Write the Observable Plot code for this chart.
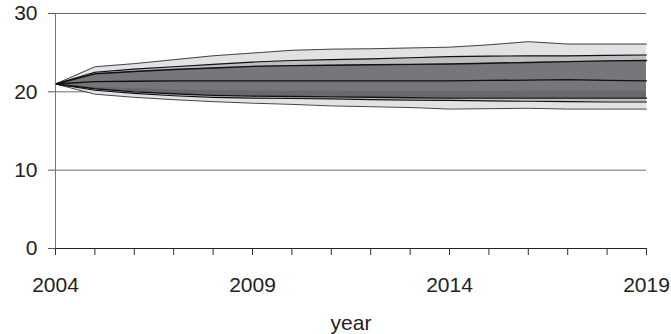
<!DOCTYPE html>
<html>
<head>
<meta charset="utf-8">
<script src="https://cdn.jsdelivr.net/npm/d3@7"></script>
<script src="https://cdn.jsdelivr.net/npm/@observablehq/plot@0.6"></script>
<style>
  html, body { margin: 0; padding: 0; background: #fff; }
</style>
</head>
<body>
<div id="chart"></div>
<script>
const years    = [2004, 2005, 2006, 2007, 2008, 2009, 2010, 2011, 2012, 2013, 2014, 2015, 2016, 2017, 2018, 2019];
const outerHi  = [21.0, 23.2, 23.6, 24.1, 24.6, 24.95, 25.3, 25.45, 25.5, 25.6, 25.7, 26.0, 26.4, 26.1, 26.1, 26.1];
const medHi    = [21.0, 22.5, 22.9, 23.2, 23.5, 23.8, 24.0, 24.1, 24.2, 24.35, 24.5, 24.55, 24.6, 24.6, 24.65, 24.7];
const darkHi   = [21.0, 22.3, 22.6, 22.85, 23.05, 23.25, 23.35, 23.4, 23.45, 23.5, 23.55, 23.65, 23.75, 23.85, 23.95, 24.0];
const median   = [21.0, 21.3, 21.35, 21.4, 21.4, 21.4, 21.4, 21.4, 21.4, 21.4, 21.4, 21.45, 21.5, 21.55, 21.45, 21.4];
const stripHi  = [21.0, 20.6, 20.4, 20.25, 20.15, 20.1, 20.1, 20.1, 20.05, 20.05, 20.05, 20.05, 20.1, 20.1, 20.1, 20.1];
const darkLo   = [21.0, 20.4, 20.0, 19.75, 19.55, 19.45, 19.4, 19.35, 19.3, 19.25, 19.2, 19.2, 19.2, 19.2, 19.2, 19.2];
const medLo    = [21.0, 20.2, 19.8, 19.5, 19.3, 19.2, 19.15, 19.1, 19.0, 18.95, 18.9, 18.85, 18.8, 18.75, 18.7, 18.7];
const outerLo  = [21.0, 19.7, 19.3, 19.0, 18.75, 18.55, 18.4, 18.2, 18.1, 18.0, 17.8, 17.85, 17.9, 17.8, 17.8, 17.8];
const yTicks = [0, 10, 20, 30];
const xLabelTicks = [2004, 2009, 2014, 2019];
const xLabel = "year";

const data = years.map((year, i) => ({
  year,
  outerHi: outerHi[i], medHi: medHi[i], darkHi: darkHi[i], median: median[i],
  stripHi: stripHi[i], darkLo: darkLo[i], medLo: medLo[i], outerLo: outerLo[i]
}));

const chart = Plot.plot({
  width: 671,
  height: 334,
  marginTop: 13,
  marginBottom: 86,
  marginLeft: 55,
  marginRight: 25,
  style: { fontFamily: "'Liberation Sans', Arial, sans-serif", fontSize: "21px", color: "#222", background: "#fff" },
  x: { domain: [2004, 2019] },
  y: { domain: [0, 30] },
  marks: [
    Plot.ruleY([10, 20, 30], { stroke: "#6a6a6a", strokeWidth: 1 }),
    Plot.areaY(data, { x: "year", y1: "outerLo", y2: "outerHi", fill: "#e2e2e4" }),
    Plot.areaY(data, { x: "year", y1: "medLo", y2: "medHi", fill: "#bebec0" }),
    Plot.areaY(data, { x: "year", y1: "darkLo", y2: "darkHi", fill: "#77777b" }),
    Plot.areaY(data, { x: "year", y1: "darkLo", y2: "stripHi", fill: "#69696d" }),
    Plot.lineY(data, { x: "year", y: "outerHi", stroke: "#444", strokeWidth: 1 }),
    Plot.lineY(data, { x: "year", y: "outerLo", stroke: "#444", strokeWidth: 1 }),
    Plot.lineY(data, { x: "year", y: "medHi", stroke: "#111", strokeWidth: 1.2 }),
    Plot.lineY(data, { x: "year", y: "medLo", stroke: "#111", strokeWidth: 1.2 }),
    Plot.lineY(data, { x: "year", y: "darkHi", stroke: "#111", strokeWidth: 1.4 }),
    Plot.lineY(data, { x: "year", y: "darkLo", stroke: "#111", strokeWidth: 1.4 }),
    Plot.lineY(data, { x: "year", y: "median", stroke: "#111", strokeWidth: 1.3 }),
    Plot.ruleY(data.slice(-1), { x: 2019, y1: "outerLo", y2: "outerHi", stroke: "#333", strokeWidth: 1 }),
    Plot.ruleX([2004], { y1: 0, y2: 30, stroke: "#777", strokeWidth: 1 }),
    Plot.ruleY([0], { stroke: "#222", strokeWidth: 1 }),
    Plot.axisY({ ticks: yTicks, tickSize: 7, tickPadding: 11, label: null, stroke: "#555" }),
    Plot.axisX({ ticks: years, tickSize: 7, tickFormat: () => "", label: null, stroke: "#333" }),
    Plot.axisX({ ticks: xLabelTicks, tickSize: 0, tickPadding: 29, tickFormat: d => String(d), label: null }),
    Plot.text([xLabel], { frameAnchor: "bottom", dy: 81, text: d => d, fill: "#222" })
  ]
});

document.getElementById("chart").appendChild(chart);
</script>
</body>
</html>
